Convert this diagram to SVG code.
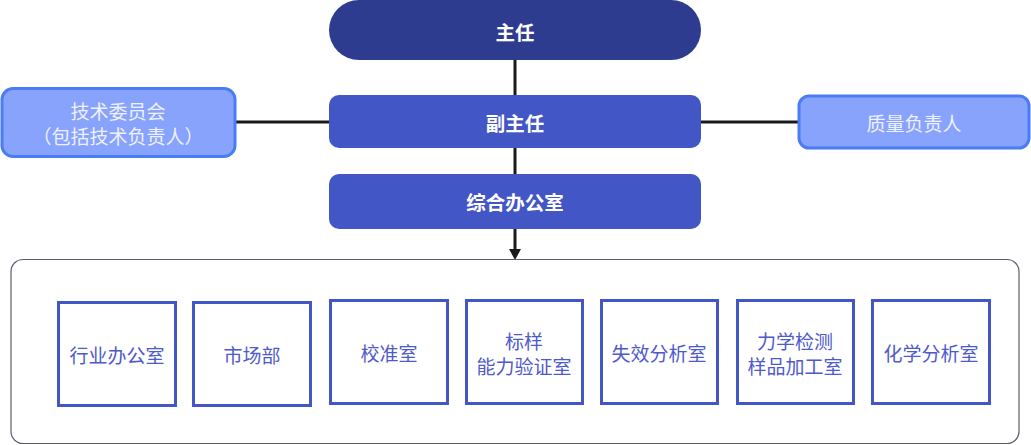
<svg xmlns="http://www.w3.org/2000/svg" width="1031" height="445" viewBox="0 0 1031 445">
<style>
text{font-family:"Noto Sans CJK SC","Noto Sans",sans-serif;text-anchor:middle;dominant-baseline:central;font-size:19px}
.dark{fill:#2E3C90}
.mid{fill:#4356C5}
.lead{fill:#FFFFFF;font-weight:bold;font-size:19.5px}
.side{fill:#88A3FC;stroke:#4A7CF6;stroke-width:3}
.sidet{fill:#EEF1FF}
.unit{fill:#FFFFFF;stroke:#4356C5;stroke-width:3}
.unitt{fill:#4E59CC}
.conn{stroke:#1A1A1A;stroke-width:3;fill:none}
.head{fill:#1A1A1A}
</style>
<g id="connectors">
<line class="conn" x1="515" y1="60" x2="515" y2="95"/>
<line class="conn" x1="515" y1="148" x2="515" y2="174"/>
<line class="conn" x1="515" y1="229" x2="515" y2="250"/>
<path class="head" d="M509,249 L521,249 L515,260 Z"/>
<line class="conn" x1="236" y1="122" x2="329" y2="122"/>
<line class="conn" x1="701" y1="122" x2="798" y2="122"/>
</g>
<g id="node-director">
<rect class="dark" x="329" y="0" width="372" height="60" rx="30"/>
<text class="lead" x="515" y="31">主任</text>
</g>
<g id="node-deputy">
<rect class="mid" x="329" y="95" width="372" height="53" rx="10"/>
<text class="lead" x="515" y="122">副主任</text>
</g>
<g id="node-office">
<rect class="mid" x="329" y="174" width="372" height="55" rx="10"/>
<text class="lead" x="515" y="201">综合办公室</text>
</g>
<g id="node-committee">
<rect class="side" x="2" y="88.5" width="233" height="68" rx="11"/>
<text class="sidet" x="118" y="110">技术委员会</text>
<text class="sidet" x="118" y="135">（包括技术负责人）</text>
</g>
<g id="node-quality">
<rect class="side" x="799" y="96" width="230" height="52" rx="10"/>
<text class="sidet" x="914" y="122">质量负责人</text>
</g>
<g id="container">
<rect x="11" y="259.5" width="1008" height="184" rx="12" fill="none" stroke="#5A5E72" stroke-width="1.2"/>
</g>
<g id="unit-1">
<rect class="unit" x="58.5" y="302.5" width="117" height="103"/>
<text class="unitt" x="117" y="354">行业办公室</text>
</g>
<g id="unit-2">
<rect class="unit" x="193.5" y="302.5" width="117" height="103"/>
<text class="unitt" x="252" y="354">市场部</text>
</g>
<g id="unit-3">
<rect class="unit" x="330.5" y="300.5" width="117" height="103"/>
<text class="unitt" x="389" y="352">校准室</text>
</g>
<g id="unit-4">
<rect class="unit" x="466.5" y="300.5" width="116" height="103"/>
<text class="unitt" x="524" y="340">标样</text>
<text class="unitt" x="524" y="365">能力验证室</text>
</g>
<g id="unit-5">
<rect class="unit" x="601.5" y="300.5" width="116" height="103"/>
<text class="unitt" x="659" y="352">失效分析室</text>
</g>
<g id="unit-6">
<rect class="unit" x="737.5" y="300.5" width="116" height="103"/>
<text class="unitt" x="795" y="340">力学检测</text>
<text class="unitt" x="795" y="365">样品加工室</text>
</g>
<g id="unit-7">
<rect class="unit" x="872.5" y="300.5" width="117" height="103"/>
<text class="unitt" x="931" y="352">化学分析室</text>
</g>
</svg>
